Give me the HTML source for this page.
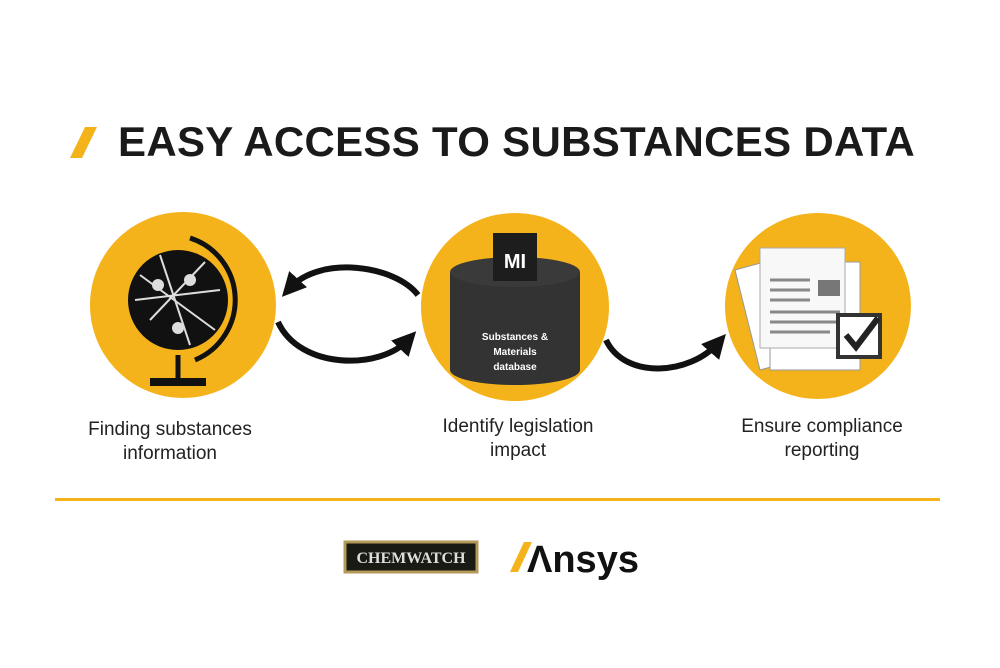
<!DOCTYPE html>
<html><head><style>
body{margin:0;width:1000px;height:668px;background:#fff;position:relative;overflow:hidden;font-family:"Liberation Sans",sans-serif}
.t{position:absolute;left:118px;top:118px;font-size:42px;font-weight:bold;color:#1a1a1a;letter-spacing:0.3px;white-space:nowrap}
.lab{position:absolute;font-size:19px;color:#222;text-align:center;line-height:24px;width:260px}
</style></head><body>
<svg width="1000" height="668" style="position:absolute;left:0;top:0">
<polygon points="70,158 82,158 97,127 85,127" fill="#f4b31a"/>
<circle cx="183" cy="305" r="93" fill="#f4b31a"/>
<circle cx="515" cy="307" r="94" fill="#f4b31a"/>
<circle cx="818" cy="306" r="93" fill="#f4b31a"/>
<!-- globe -->
<circle cx="178" cy="300" r="50" fill="#111"/>
<g stroke="#ddd" stroke-width="2" fill="none">
<line x1="140" y1="275" x2="215" y2="330"/><line x1="150" y1="320" x2="205" y2="262"/>
<line x1="135" y1="300" x2="220" y2="290"/><line x1="160" y1="255" x2="190" y2="345"/>
</g>
<circle cx="158" cy="285" r="6" fill="#ddd"/><circle cx="190" cy="280" r="6" fill="#ddd"/><circle cx="178" cy="328" r="6" fill="#ddd"/>
<path d="M190,238 A65,65 0 0 1 195,360" stroke="#111" stroke-width="5" fill="none"/>
<line x1="178" y1="355" x2="178" y2="380" stroke="#111" stroke-width="5"/>
<rect x="150" y="378" width="56" height="8" fill="#111"/>
<!-- database -->
<path d="M450,272 L450,370 A65,15 0 0 0 580,370 L580,272 Z" fill="#333"/>
<ellipse cx="515" cy="272" rx="65" ry="15" fill="#3a3a3a"/>
<rect x="493" y="233" width="44" height="48" fill="#1d1d1d"/>
<text x="515" y="268" font-size="20" font-weight="bold" fill="#fff" text-anchor="middle" font-family="Liberation Sans">MI</text>
<text x="515" y="340" font-size="10" font-weight="bold" fill="#fff" text-anchor="middle" font-family="Liberation Sans">Substances &amp;</text>
<text x="515" y="355" font-size="10" font-weight="bold" fill="#fff" text-anchor="middle" font-family="Liberation Sans">Materials</text>
<text x="515" y="370" font-size="10" font-weight="bold" fill="#fff" text-anchor="middle" font-family="Liberation Sans">database</text>
<!-- docs -->
<polygon points="735,270 790,255 815,355 760,370" fill="#fff" stroke="#999"/>
<rect x="770" y="262" width="90" height="108" fill="#fff" stroke="#999"/>
<rect x="760" y="248" width="85" height="100" fill="#f8f8f8" stroke="#aaa"/>
<g stroke="#888" stroke-width="3"><line x1="770" y1="280" x2="810" y2="280"/><line x1="770" y1="290" x2="810" y2="290"/><line x1="770" y1="300" x2="810" y2="300"/><line x1="770" y1="312" x2="840" y2="312"/><line x1="770" y1="322" x2="840" y2="322"/><line x1="770" y1="332" x2="830" y2="332"/></g>
<rect x="818" y="280" width="22" height="16" fill="#777"/>
<rect x="838" y="315" width="42" height="42" fill="#fff" stroke="#333" stroke-width="4"/>
<path d="M846,335 L856,347 L878,318" stroke="#222" stroke-width="6" fill="none"/>
<!-- arrows -->
<defs><marker id="a" markerWidth="4" markerHeight="4" refX="2" refY="2" orient="auto"><path d="M0,0 L4,2 L0,4 Z" fill="#111"/></marker></defs>
<g stroke="#111" stroke-width="6" fill="none">
<path d="M418,295 C395,265 320,255 290,288" marker-end="url(#a)"/>
<path d="M278,322 C300,370 380,370 408,340" marker-end="url(#a)"/>
<path d="M606,340 C625,380 690,375 718,343" marker-end="url(#a)"/>
</g>
<rect x="55" y="498" width="885" height="3" fill="#f4b31a"/>
<rect x="345" y="542" width="132" height="30" fill="#1a1a14" stroke="#b39a58" stroke-width="3"/>
<text x="411" y="563" font-size="16" fill="#ddd" text-anchor="middle" font-family="Liberation Serif" font-weight="bold">CHEMWATCH</text>
<polygon points="510,572 518,572 532,542 524,542" fill="#f4b31a"/>
<text x="527" y="572" font-size="38" font-weight="bold" fill="#111" font-family="Liberation Sans">Λnsys</text>
</svg>
<div class="t">EASY ACCESS TO SUBSTANCES DATA</div>
<div class="lab" style="left:40px;top:418px">Finding substances<br>information</div>
<div class="lab" style="left:388px;top:415px">Identify legislation<br>impact</div>
<div class="lab" style="left:692px;top:415px">Ensure compliance<br>reporting</div>
</body></html>
